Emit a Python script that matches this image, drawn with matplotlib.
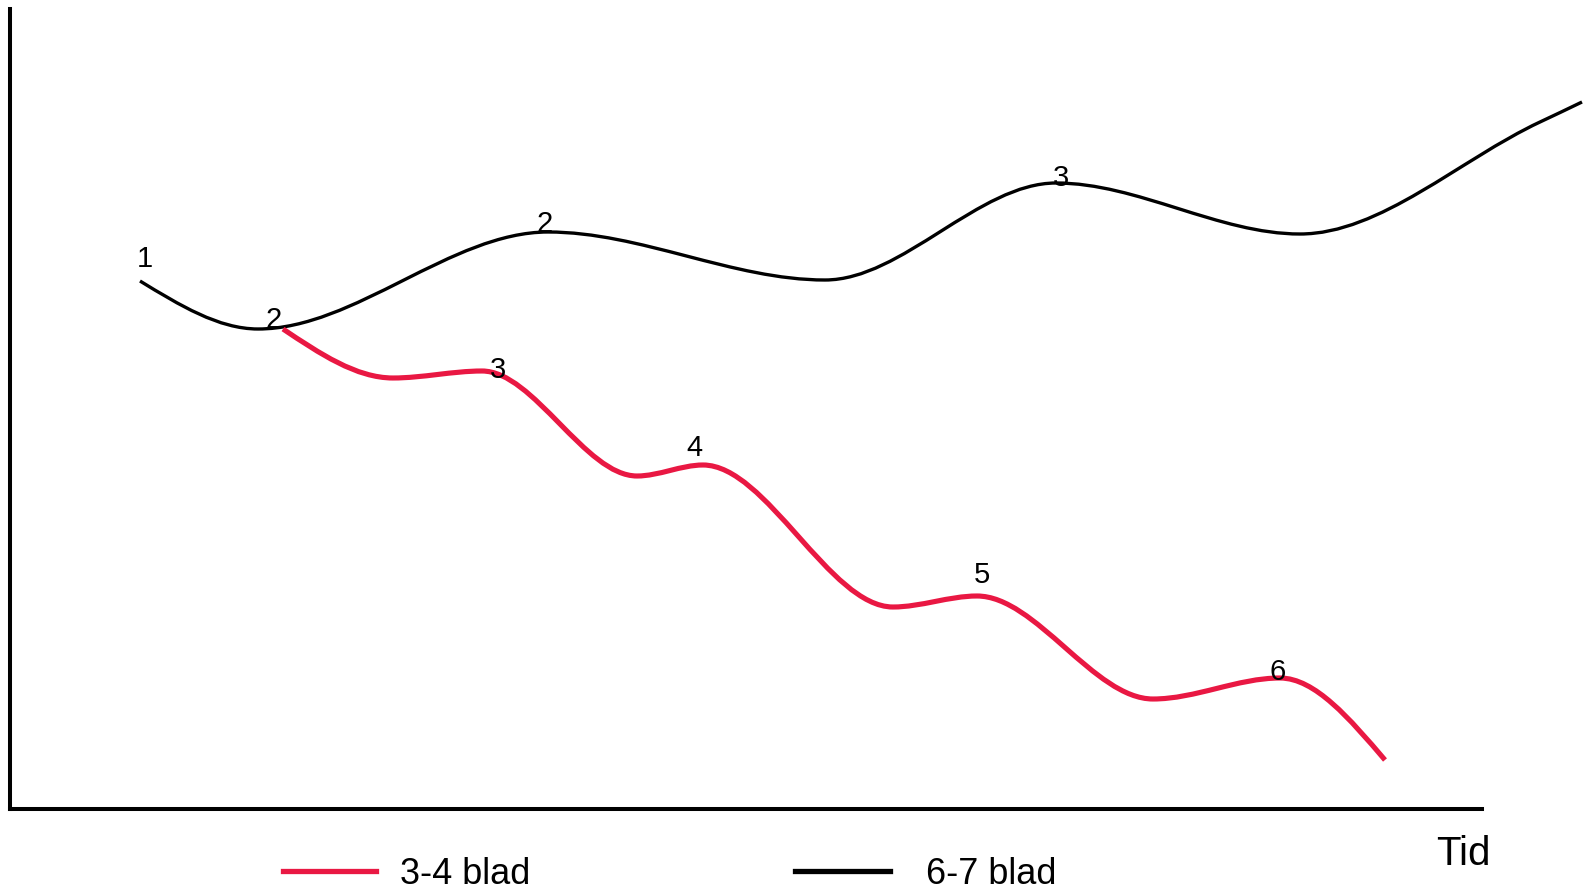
import numpy as np
import matplotlib
matplotlib.use("Agg")
import matplotlib.pyplot as plt
from matplotlib.path import Path
from matplotlib.patches import PathPatch
from matplotlib.lines import Line2D

plt.rcParams["font.family"] = ["Liberation Sans", "DejaVu Sans"]

# --- data (arbitrary units) ---
black_x = [130, 248, 538, 815, 1046, 1290, 1530, 1572]
black_y = [528, 480, 577, 529, 626, 575, 687, 707]
red_x = [273, 383, 472, 627, 693, 883, 967, 1143, 1270, 1375]
red_y = [480, 431, 438, 333, 344, 202, 213, 110, 131, 49]

# stage numbers written along the curves (text, x, baseline y)
label_txt = ["1", "2", "2", "3", "3", "4", "5", "6"]
label_x = [135, 264, 535, 1051, 488, 684, 972, 1268]
label_y = [542, 481, 577, 623, 431, 353, 226, 129]

legend_names = ["3-4 blad", "6-7 blad"]
xlabel = "Tid"

RED = "#E91843"
W, H = 1585, 890


def smooth_path(xs, ys):
    """Hermite curve through the points, flat at turning points."""
    xs, ys = np.asarray(xs, float), np.asarray(ys, float)
    n = len(xs)
    m = np.zeros(n)
    for i in range(1, n - 1):
        if (ys[i] - ys[i-1]) * (ys[i+1] - ys[i]) <= 0:
            m[i] = 0.0
        else:
            m[i] = (ys[i+1] - ys[i-1]) / (xs[i+1] - xs[i-1])
    m[0] = 1.5 * (ys[1] - ys[0]) / (xs[1] - xs[0]) - 0.5 * m[1]
    m[-1] = 1.5 * (ys[-1] - ys[-2]) / (xs[-1] - xs[-2]) - 0.5 * m[-2]
    verts, codes = [(xs[0], ys[0])], [Path.MOVETO]
    for i in range(n - 1):
        d = (xs[i+1] - xs[i]) / 3
        verts += [(xs[i] + d, ys[i] + m[i] * d),
                  (xs[i+1] - d, ys[i+1] - m[i+1] * d),
                  (xs[i+1], ys[i+1])]
        codes += [Path.CURVE4] * 3
    return Path(verts, codes)


fig = plt.figure(figsize=(W / 100, H / 100), dpi=100)
ax = fig.add_axes([10 / W, 81 / H, 1472 / W, 800 / H])
ax.set_xlim(0, 1472); ax.set_ylim(0, 800)
for s in ("top", "right"):
    ax.spines[s].set_visible(False)
for s in ("left", "bottom"):
    ax.spines[s].set_linewidth(2.9)
ax.set_xticks([]); ax.set_yticks([])

ax.add_patch(PathPatch(smooth_path(black_x, black_y), fill=False, ec="black",
                       lw=2.4, clip_on=False, capstyle="butt"))
ax.add_patch(PathPatch(smooth_path(red_x, red_y), fill=False, ec=RED,
                       lw=3.7, clip_on=False, capstyle="butt"))

for t, x, y in zip(label_txt, label_x, label_y):
    ax.text(x, y, t, fontsize=21, ha="center", va="baseline")

fig.text(1436 / W, (H - 865) / H, xlabel, fontsize=29, ha="left", va="baseline")

# hand-placed legend along the bottom edge
for (x0, x1, tx), col, name in zip([(283, 376, 400), (795, 890, 926)],
                                   [RED, "black"], legend_names):
    fig.add_artist(Line2D([x0 / W, x1 / W], [(H - 871) / H] * 2, color=col,
                          lw=3.8, transform=fig.transFigure))
    fig.text(tx / W, (H - 884) / H, name, fontsize=26, ha="left", va="baseline")

fig.savefig("out.png", dpi=100)
